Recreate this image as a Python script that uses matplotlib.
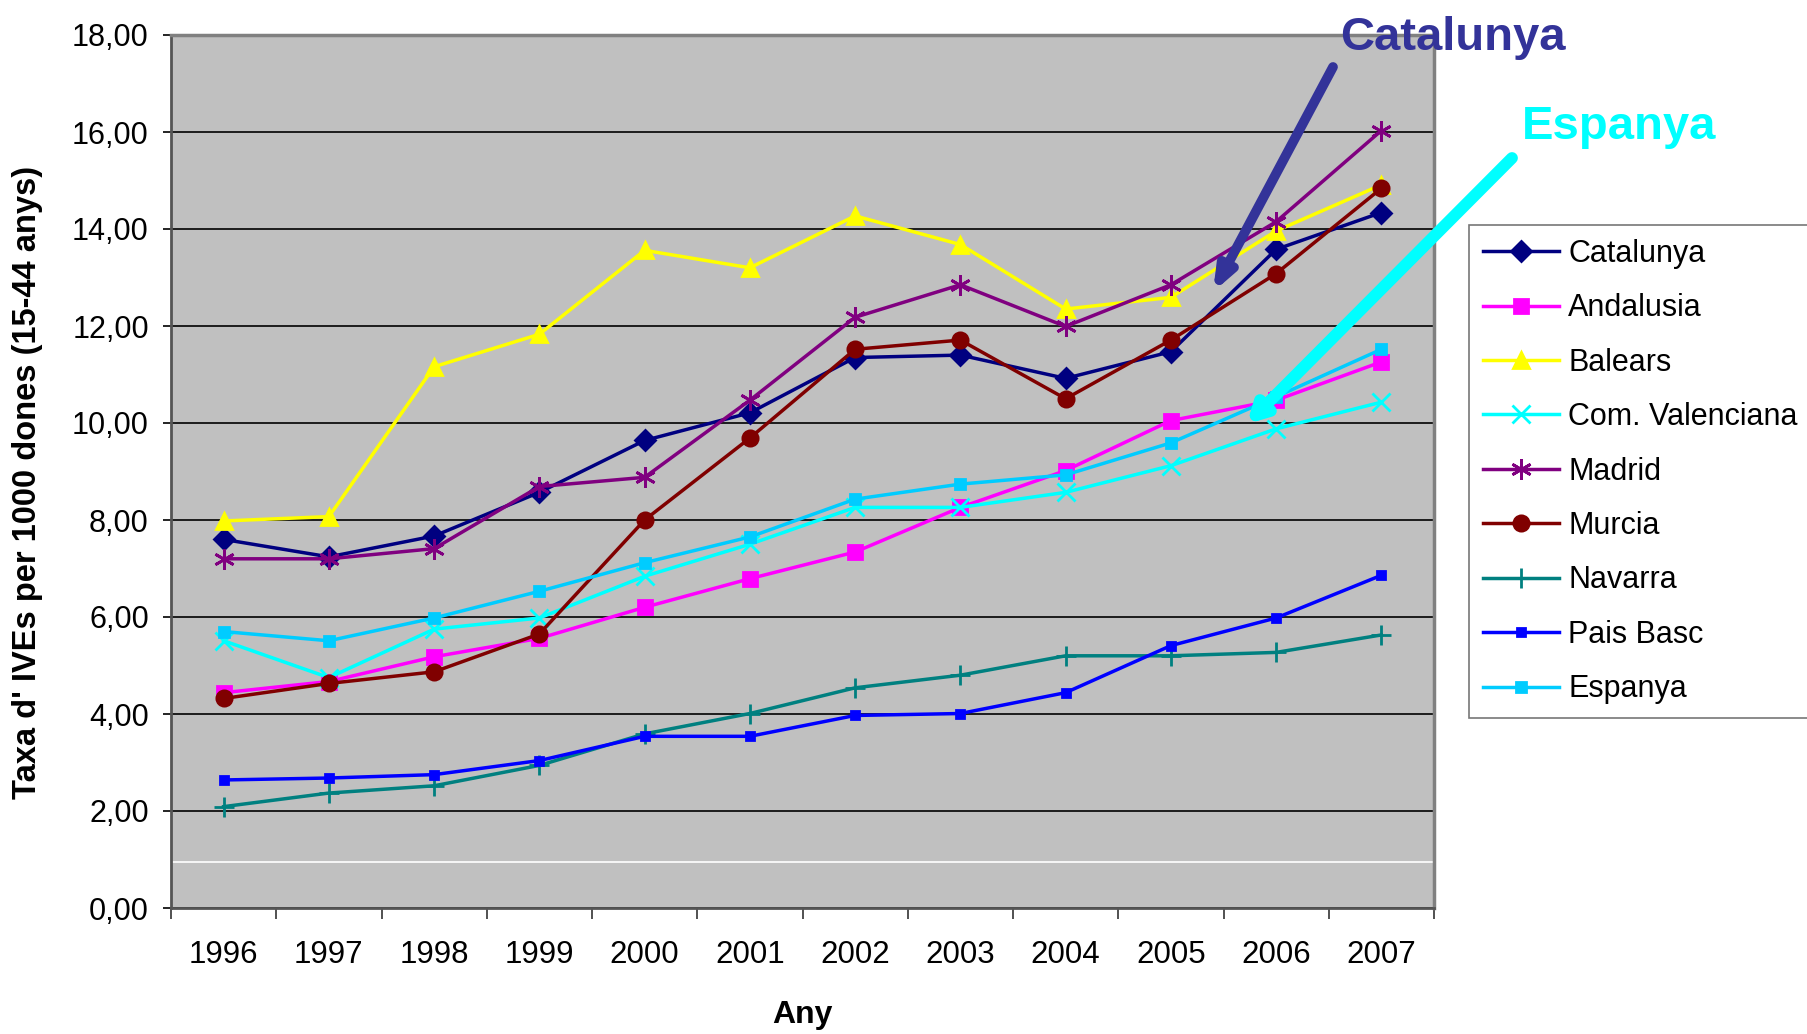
import numpy as np
import matplotlib
matplotlib.use("Agg")
import matplotlib.pyplot as plt

plt.rcParams['font.family'] = ['Liberation Sans', 'DejaVu Sans']

years = ["1996", "1997", "1998", "1999", "2000", "2001",
         "2002", "2003", "2004", "2005", "2006", "2007"]

catalunya = [7.60, 7.24, 7.67, 8.57, 9.64, 10.21, 11.35, 11.40, 10.92, 11.47, 13.58, 14.34]
andalusia = [4.44, 4.67, 5.18, 5.56, 6.20, 6.79, 7.34, 8.26, 9.02, 10.05, 10.47, 11.26]
balears = [7.98, 8.07, 11.16, 11.83, 13.56, 13.20, 14.27, 13.68, 12.35, 12.59, 13.96, 14.91]
valenciana = [5.51, 4.75, 5.75, 5.98, 6.84, 7.50, 8.26, 8.26, 8.57, 9.12, 9.88, 10.43]
madrid = [7.20, 7.20, 7.41, 8.69, 8.88, 10.47, 12.18, 12.85, 11.99, 12.85, 14.15, 16.03]
murcia = [4.32, 4.63, 4.87, 5.65, 8.00, 9.69, 11.52, 11.71, 10.50, 11.71, 13.08, 14.84]
navarra = [2.09, 2.37, 2.52, 2.94, 3.59, 4.01, 4.54, 4.80, 5.20, 5.20, 5.27, 5.63]
pais_basc = [2.64, 2.68, 2.75, 3.04, 3.54, 3.54, 3.97, 4.01, 4.44, 5.41, 5.98, 6.86]
espanya = [5.70, 5.51, 5.98, 6.53, 7.12, 7.65, 8.43, 8.74, 8.93, 9.59, 10.54, 11.52]

W, H = 1807, 1034
fig = plt.figure(figsize=(W / 100, H / 100), dpi=100)
fig.patch.set_facecolor("white")
ax = fig.add_axes([171 / W, 1 - 908 / H, (1434 - 171) / W, (908 - 35) / H])
ax.set_facecolor("#C0C0C0")

x = np.arange(len(years))

# series: name, values, color, marker, size
series = [
    ("Catalunya", catalunya, "#000080", "D", 10),
    ("Andalusia", andalusia, "#FF00FF", "s", 10),
    ("Balears", balears, "#FFFF00", "^", 12),
    ("Com. Valenciana", valenciana, "#00FFFF", "x", 13),
    ("Madrid", madrid, "#800080", (6, 2, 0), 15),
    ("Murcia", murcia, "#800000", "o", 11),
    ("Navarra", navarra, "#008080", "+", 15),
    ("Pais Basc", pais_basc, "#0000FF", "s", 6),
    ("Espanya", espanya, "#00CCFF", "s", 7),
]

for name, vals, col, mk, ms in series:
    ax.plot(x, vals, color=col, lw=2.5, marker=mk, markersize=ms,
            markerfacecolor=col, markeredgecolor=col, markeredgewidth=2,
            label=name, zorder=3)

ax.set_xlim(-0.5, len(years) - 0.5)
ax.set_ylim(0, 18)
ax.set_yticks(np.arange(0, 19, 2))
ax.set_yticklabels([f"{v:.2f}".replace(".", ",") for v in np.arange(0, 19, 2)])
ax.yaxis.grid(True, color="black", lw=1.2)
ax.set_axisbelow(True)
ax.axhline(0.95, color="white", lw=1.2, zorder=1)

ax.set_xticks(np.arange(-0.5, len(years), 1))
ax.set_xticklabels([])
ax.set_xticks(x, minor=True)
ax.set_xticklabels(years, minor=True)
ax.tick_params(axis="x", which="major", length=8, width=1.2, color="#333333")
ax.tick_params(axis="x", which="minor", length=0, pad=23, labelsize=22.5)
ax.tick_params(axis="y", length=6, width=1.2, pad=10, labelsize=22)

for s in ["top", "right"]:
    ax.spines[s].set_color("#808080")
    ax.spines[s].set_linewidth(2.5)
ax.spines["left"].set_color("#555555")
ax.spines["left"].set_linewidth(2)
ax.spines["bottom"].set_color("#555555")
ax.spines["bottom"].set_linewidth(2)

ax.set_ylabel("Taxa d' IVEs per 1000 dones (15-44 anys)", fontsize=23.5,
              fontweight="bold")
ax.yaxis.set_label_coords(-0.101, 0.487)
ax.set_xlabel("Any", fontsize=23, fontweight="bold")
ax.xaxis.set_label_coords(0.5, -0.105)

leg = fig.legend(loc="upper left", bbox_to_anchor=(1469 / W, 1 - 225 / H),
                 fontsize=22, frameon=True, fancybox=False, edgecolor="#555555",
                 borderpad=0.45, labelspacing=0.8, handlelength=2.5,
                 handletextpad=0.3, borderaxespad=0)
leg.get_frame().set_linewidth(1.2)

# annotations
fig.text(1340 / W, 1 - 50 / H, "Catalunya", color="#333399", fontsize=34,
         fontweight="bold", ha="left", va="baseline")
fig.text(1522 / W, 1 - 139 / H, "Espanya", color="#00FFFF", fontsize=34,
         fontweight="bold", ha="left", va="baseline")
ax.annotate("", xy=(1213, H - 292), xycoords="figure pixels",
            xytext=(1333, H - 67), textcoords="figure pixels",
            arrowprops=dict(arrowstyle="-|>,head_length=1.3,head_width=0.5",
                            lw=7, color="#333399", shrinkA=0, shrinkB=0),
            annotation_clip=False, zorder=5)
ax.annotate("", xy=(1247, H - 424), xycoords="figure pixels",
            xytext=(1512, H - 158), textcoords="figure pixels",
            arrowprops=dict(arrowstyle="-|>,head_length=1.0,head_width=0.55",
                            lw=8.5, color="#00FFFF", shrinkA=0, shrinkB=0),
            annotation_clip=False, zorder=5)

fig.savefig("out.png", dpi=100)
